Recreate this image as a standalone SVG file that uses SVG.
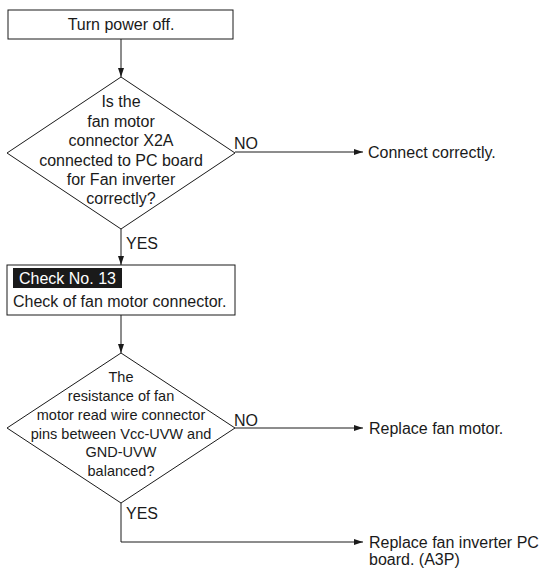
<svg xmlns="http://www.w3.org/2000/svg" width="540" height="568" viewBox="0 0 540 568">
<style>
text{font-family:"Liberation Sans",Arial,sans-serif;font-size:16px;fill:#1a1a1a}
.c{text-anchor:middle}
.d2{font-size:14.5px}
.shape{fill:#fff;stroke:#1a1a1a;stroke-width:1}
.conn{fill:none;stroke:#1a1a1a;stroke-width:1}
</style>
<defs>
<marker id="ah" markerUnits="userSpaceOnUse" markerWidth="10" markerHeight="6" refX="9" refY="3" orient="auto">
<path d="M0,0 L9,3 L0,6 z" fill="#1a1a1a"/>
</marker>
</defs>
<rect width="540" height="568" fill="#fff"/>
<g id="connectors">
<line class="conn" x1="121" y1="39" x2="121" y2="77" marker-end="url(#ah)"/>
<line class="conn" x1="121" y1="229" x2="121" y2="265" marker-end="url(#ah)"/>
<line class="conn" x1="235" y1="152" x2="363" y2="152" marker-end="url(#ah)"/>
<line class="conn" x1="121" y1="315" x2="121" y2="353" marker-end="url(#ah)"/>
<line class="conn" x1="235" y1="428" x2="363" y2="428" marker-end="url(#ah)"/>
<polyline class="conn" points="121,503 121,542 363,542" marker-end="url(#ah)"/>
<text x="234" y="149">NO</text>
<text x="126" y="249">YES</text>
<text x="234" y="426">NO</text>
<text x="126" y="519">YES</text>
</g>
<g id="turn-power-off">
<rect class="shape" x="8" y="10" width="225" height="29"/>
<text class="c" x="121" y="30">Turn power off.</text>
</g>
<g id="decision-connector">
<polygon class="shape" points="121,77 235,153 121,229 7,153"/>
<text class="c" x="121" y="107">Is the</text>
<text class="c" x="121" y="127">fan motor</text>
<text class="c" x="121" y="146">connector X2A</text>
<text class="c" x="121" y="166">connected to PC board</text>
<text class="c" x="121" y="185">for Fan inverter</text>
<text class="c" x="121" y="204">correctly?</text>
</g>
<g id="connect-correctly">
<text x="368" y="158">Connect correctly.</text>
</g>
<g id="check-13">
<rect class="shape" x="7" y="265" width="228" height="50"/>
<rect x="13" y="268" width="109" height="20" fill="#1a1a1a"/>
<text x="19" y="284" style="fill:#fff">Check No. 13</text>
<text x="13" y="307">Check of fan motor connector.</text>
</g>
<g id="decision-resistance">
<polygon class="shape" points="121,353 235,428 121,503 7,428"/>
<text class="c d2" x="121" y="382">The</text>
<text class="c d2" x="121" y="401">resistance of fan</text>
<text class="c d2" x="121" y="420">motor read wire connector</text>
<text class="c d2" x="121" y="439">pins between Vcc-UVW and</text>
<text class="c d2" x="121" y="457">GND-UVW</text>
<text class="c d2" x="121" y="476">balanced?</text>
</g>
<g id="replace-fan-motor">
<text x="369" y="434">Replace fan motor.</text>
</g>
<g id="replace-inverter">
<text x="369" y="548">Replace fan inverter PC</text>
<text x="369" y="565">board. (A3P)</text>
</g>
</svg>
